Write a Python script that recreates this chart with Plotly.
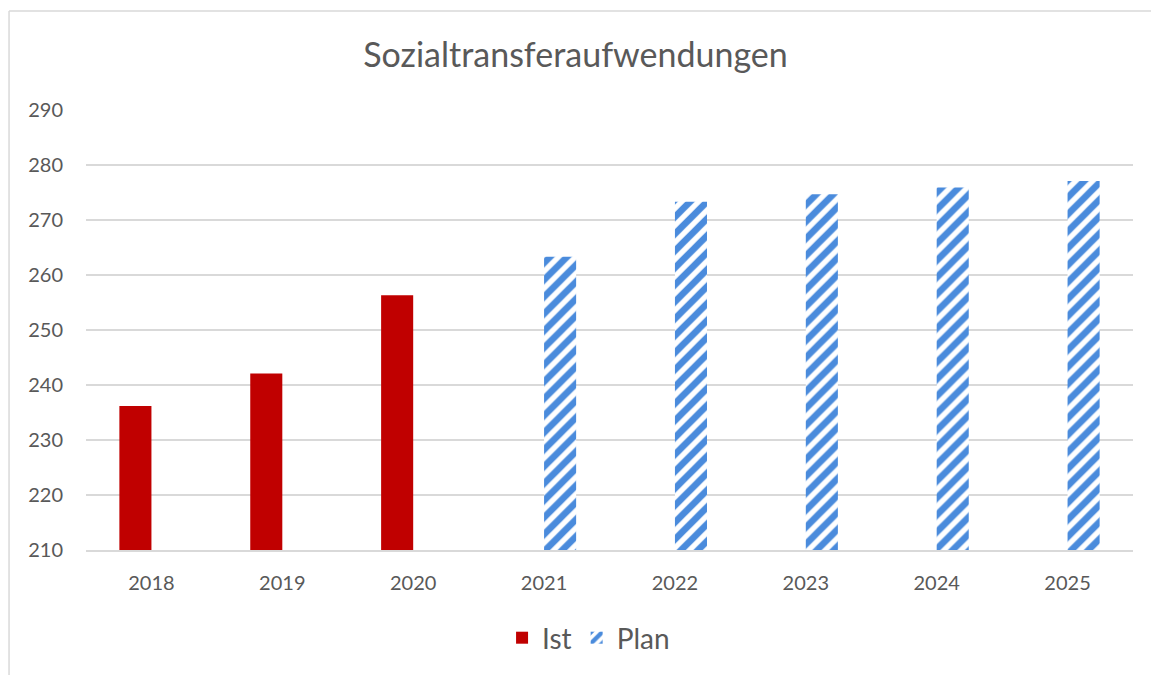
import plotly.graph_objects as go

# Sozialtransferaufwendungen (Mio. €) — Ist 2018-2020, Plan 2021-2025
years = ["2018", "2019", "2020", "2021", "2022", "2023", "2024", "2025"]
ist = [236.2, 242.1, 256.3, None, None, None, None, None]
plan = [None, None, None, 263.3, 273.3, 274.7, 275.9, 277.1]

RED = "#c00000"
BLUE = "#4a8bdc"
GREY = "#595959"
GRID = "#d9d9d9"
FONT = "Lato, 'Open Sans', sans-serif"

fig = go.Figure()
fig.add_trace(go.Bar(x=years, y=ist, name="Ist", marker=dict(color=RED, line=dict(width=0))))
fig.add_trace(go.Bar(
    x=years, y=plan, name="Plan",
    marker=dict(color="white", line=dict(width=0),
                pattern=dict(shape="/", fgcolor=BLUE, bgcolor="white", fgopacity=1,
                             size=12, solidity=0.55, fillmode="overlay"))))

# light grey frame of the chart area (only top and left edges are in view)
fig.add_shape(type="line", xref="paper", yref="paper",
              x0=-0.0735, x1=-0.0735, y0=-0.6, y1=1.225,
              line=dict(color=GRID, width=1.5), layer="below")
fig.add_shape(type="line", xref="paper", yref="paper",
              x0=-0.0735, x1=1.3, y0=1.225, y1=1.225,
              line=dict(color=GRID, width=1.5), layer="below")

fig.update_layout(
    width=1151, height=675,
    barmode="group", bargap=0.51, bargroupgap=0,
    paper_bgcolor="white", plot_bgcolor="white",
    font=dict(family=FONT, color=GREY, size=20),
    title=dict(text="Sozialtransferaufwendungen", x=0.5, xanchor="center",
               y=1 - 55 / 675, yanchor="middle", font=dict(size=34, color=GREY)),
    margin=dict(l=86, r=18, t=110, b=125),
    legend=dict(orientation="h", x=0.48, xanchor="center", y=-0.2, yanchor="middle",
                font=dict(size=28, color=GREY), itemwidth=30, traceorder="normal"),
)
fig.update_yaxes(range=[210, 290], dtick=10, showgrid=True, gridcolor=GRID, gridwidth=1.5,
                 zeroline=False, showline=False, ticklabelstandoff=22,
                 tickfont=dict(size=20, color=GREY))
fig.update_xaxes(showline=True, linecolor=GRID, linewidth=1.5, showgrid=False,
                 ticklabelstandoff=14, tickfont=dict(size=20, color=GREY))

# drop the default page margin so the figure fills the window exactly
fig.write_html("out.html", config={"displayModeBar": False},
               post_script="document.body.style.margin='0';"
                           "document.body.style.overflow='hidden';")
